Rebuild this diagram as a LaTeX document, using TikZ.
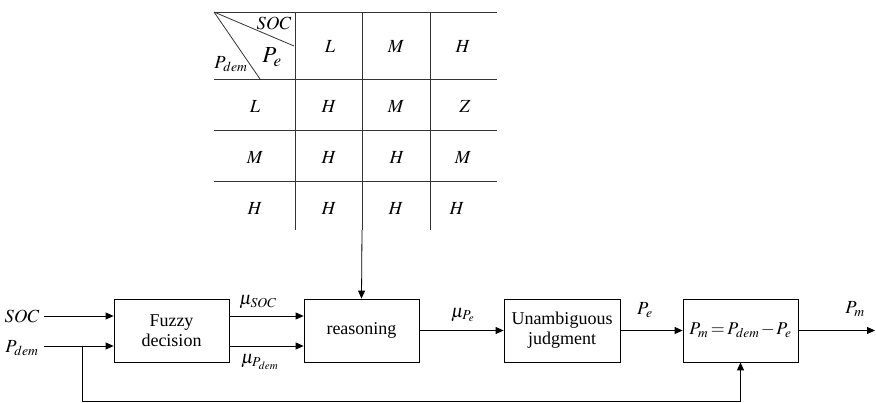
\documentclass[tikz,border=0pt]{standalone}
\usepackage{mathptmx}
\usepackage[no-math]{fontspec}
\setmainfont{Liberation Serif}
\usetikzlibrary{arrows.meta}
\begin{document}
\begin{tikzpicture}[x=1pt,y=-1pt,line width=0.8pt,
  box/.style={draw,minimum width=115pt,minimum height=63pt,inner sep=1pt,align=center,font=\fontsize{18}{20}\selectfont},
  lbl/.style={inner sep=1pt,font=\fontsize{18.5}{20}\selectfont},
  arr/.style={-{Triangle[length=8pt,width=7pt]}},
  tline/.style={line width=0.8pt,draw=black!80}]
\useasboundingbox (0,0) rectangle (876,403);
% table
\draw[tline] (214,12) -- (497,12);
\draw[tline] (214,79) -- (497,79);
\draw[tline] (214,130) -- (497,130);
\draw[tline] (214,181) -- (497,181);
\draw[tline] (295,12) -- (295,230);
\draw[tline] (362,12) -- (362,230);
\draw[tline] (430,12) -- (430,230);
\draw[tline] (214,12) -- (294,46);
\draw[tline] (214,12) -- (260,79);
\node[lbl] (hsoc) at (274,23) {$SOC$};
\node[lbl] (hpe) at (272,57) {\fontsize{23}{25}\selectfont$P_e$};
\node[lbl] (hpdem) at (231,64) {$P_{dem}$};
\node[lbl] (c1) at (330,47) {$L$};
\node[lbl] (c2) at (396,47) {$M$};
\node[lbl] (c3) at (463,47) {$H$};
\node[lbl] (r1) at (255,106) {$L$};
\node[lbl] (r11) at (329,106) {$H$};
\node[lbl] (r12) at (396,106) {$M$};
\node[lbl] (r13) at (465,106) {$Z$};
\node[lbl] (r2) at (255,157) {$M$};
\node[lbl] (r21) at (329,157) {$H$};
\node[lbl] (r22) at (397,157) {$H$};
\node[lbl] (r23) at (463,157) {$M$};
\node[lbl] (r3) at (255,208) {$H$};
\node[lbl] (r31) at (329,208) {$H$};
\node[lbl] (r32) at (396,208) {$H$};
\node[lbl] (r33) at (457,208) {$H$};
\coordinate (tabbot) at (362,230);
% blocks
\node[box] (fuzzy) at (171.5,330.5) {Fuzzy\\decision};
\node[box] (reason) at (361.5,330.5) {reasoning};
\node[box,minimum width=116pt] (unamb) at (562,330.5) {Unambiguous\\judgment};
\node[box] (calc) at (740.5,330.5) {\thickmuskip=2.5mu\medmuskip=1.5mu$P_m=P_{dem}-P_e$};
% inputs
\node[lbl] (soc) at (22,316) {$SOC$};
\node[lbl] (pdem) at (22,348) {$P_{dem}$};
\coordinate (socs) at (44,316);
\coordinate (pdems) at (44,346);
\draw[arr] (socs) -- (fuzzy.west |- socs);
\draw[arr] (pdems) -- (fuzzy.west |- pdems);
% fuzzy -> reasoning
\coordinate (m1) at (229,316);
\coordinate (m2) at (229,346);
\draw[arr] (m1) -- (reason.west |- m1);
\draw[arr] (m2) -- (reason.west |- m2);
\node[lbl] (musoc) at (258,302) {$\mu_{SOC}$};
\node[lbl] (mupdem) at (260,362) {$\mu_{P_{dem}}$};
% table -> reasoning
\draw[arr] (tabbot) -- (reason.north);
% reasoning -> unamb
\draw[arr] (reason) -- (unamb);
\node[lbl] (mupe) at (463,315) {$\mu_{P_e}$};
\draw[arr] (unamb) -- (calc);
\node[lbl] (pe) at (645,310) {$P_e$};
\coordinate (out) at (875,330.5);
\draw[arr] (calc) -- (out);
\node[lbl] (pm) at (855,309) {$P_m$};
% feedback
\coordinate (fb) at (82,346);
\draw[arr] (fb) -- (82,401) -| (calc.south);
\end{tikzpicture}
\end{document}
